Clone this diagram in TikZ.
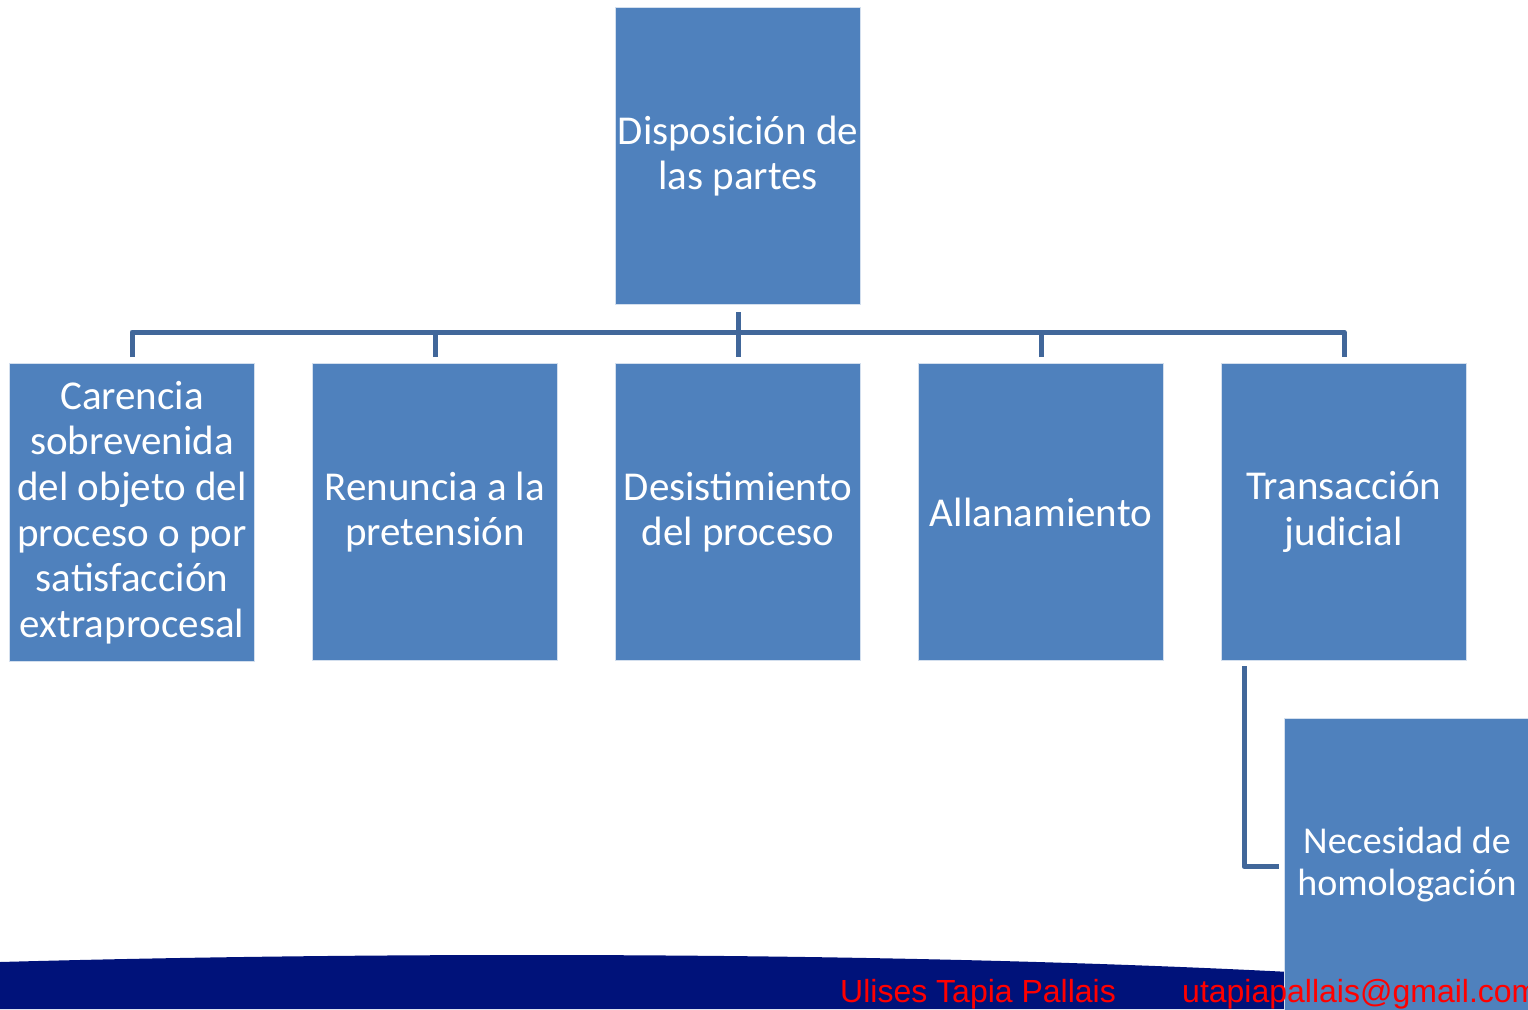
\documentclass[tikz,border=0pt]{standalone}
\usepackage{fontspec}
\setmainfont{Carlito}
\newfontfamily\footfont{Liberation Sans}
\definecolor{boxblue}{HTML}{4F81BD}
\definecolor{connblue}{HTML}{41679A}
\definecolor{navy}{HTML}{00127A}
\definecolor{footred}{HTML}{FF0000}
\begin{document}
\begin{tikzpicture}[x=1pt,y=-1pt,
  box/.style={draw=white!75!boxblue, line width=1pt, fill=boxblue,
    minimum width=245pt, minimum height=297pt, inner sep=0pt,
    align=center, text=white, font=\fontsize{41}{45.6}\selectfont, anchor=north west},
  conn/.style={draw=connblue, line width=5pt, line join=round},
  foot/.style={text=footred, font=\footfont\fontsize{32}{36}\selectfont, inner sep=0pt, anchor=base west}]
\useasboundingbox (0,0) rectangle (1528,1009);
\clip (0,0) rectangle (1528,1009);
\fill[white] (0,0) rectangle (1528,1009);
% footer band
\fill[navy] (0,962) .. controls (400,951) and (900,952) .. (1290,972) -- (1528,980) -- (1528,1009) -- (0,1009) -- cycle;
% boxes
\node[box] (top) at (615,7) {Disposición de\\las partes};
\node[box, minimum height=298pt] (c1) at (9,363) {Carencia\\sobrevenida\\del objeto del\\proceso o por\\satisfacción\\extraprocesal};
\node[box] (c2) at (312,363) {Renuncia a la\\pretensión};
\node[box] (c3) at (615,363) {Desistimiento\\del proceso};
\node[box] (c4) at (918,363) {Allanamiento};
\node[box] (c5) at (1221,363) {Transacción\\judicial};
\node[box, minimum height=292pt, font=\fontsize{38}{42}\selectfont] (nh) at (1284,718) {Necesidad de\\homologación};
% connectors
\draw[conn] ([yshift=-7pt]top.south) -- ([yshift=6pt]c3.north);
\draw[conn] ([yshift=6pt]c1.north) -- ++(0,-25) -| ([yshift=6pt]c5.north);
\draw[conn] ([yshift=6pt]c2.north) -- ++(0,-25);
\draw[conn] ([yshift=6pt]c4.north) -- ++(0,-25);
\draw[conn] ([xshift=23pt,yshift=-5pt]c5.south west) |- ([xshift=-5pt,yshift=-2pt]nh.west);
% footer text
\node[foot] (name) at (840,1002) {Ulises Tapia Pallais};
\node[foot] (mail) at (1182,1002) {utapiapallais@gmail.com};
\end{tikzpicture}
\end{document}
